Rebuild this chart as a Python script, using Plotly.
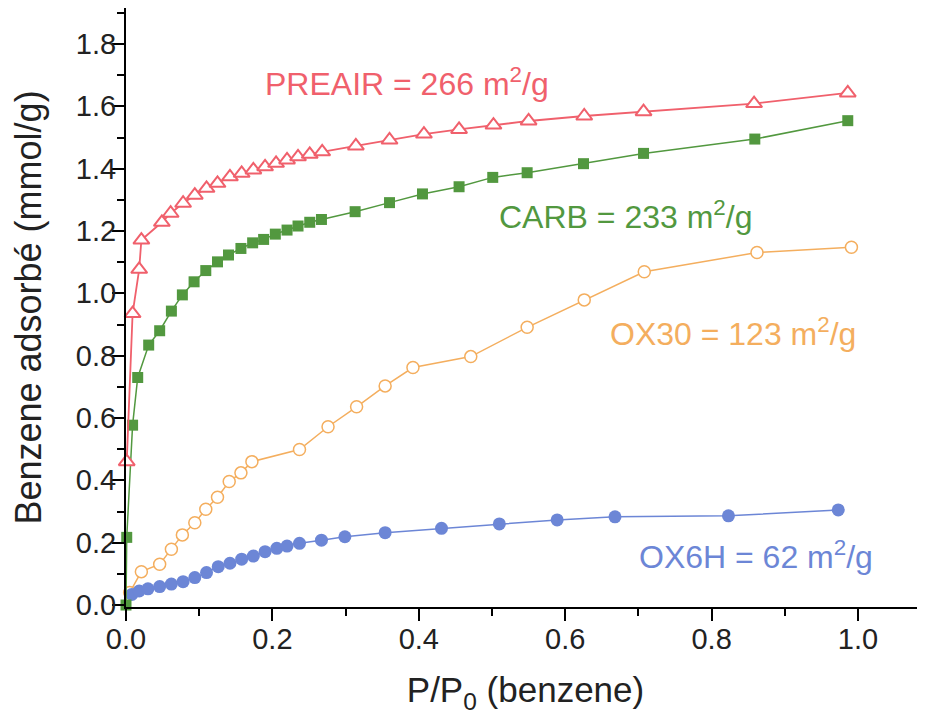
import plotly.graph_objects as go

# ---- data ----
preair_x = [0.001, 0.009, 0.018, 0.021, 0.049, 0.061, 0.078, 0.094, 0.110, 0.125, 0.142, 0.158,
            0.174, 0.190, 0.205, 0.220, 0.235, 0.251, 0.268, 0.314, 0.360, 0.407, 0.455, 0.502,
            0.550, 0.626, 0.707, 0.858, 0.986]
preair_y = [0.46, 0.935, 1.077, 1.171, 1.228, 1.257, 1.289, 1.315, 1.337, 1.353, 1.374, 1.385,
            1.396, 1.406, 1.417, 1.428, 1.438, 1.446, 1.454, 1.473, 1.492, 1.511, 1.526, 1.540,
            1.553, 1.569, 1.583, 1.609, 1.643]

carb_x = [0.0, 0.001, 0.009, 0.016, 0.031, 0.046, 0.062, 0.077, 0.093, 0.109, 0.125, 0.140,
          0.157, 0.173, 0.188, 0.204, 0.220, 0.235, 0.251, 0.267, 0.313, 0.360, 0.405, 0.455,
          0.501, 0.548, 0.625, 0.707, 0.859, 0.986]
carb_y = [0.0, 0.217, 0.577, 0.730, 0.834, 0.880, 0.943, 0.995, 1.037, 1.073, 1.101, 1.123,
          1.144, 1.162, 1.173, 1.190, 1.203, 1.216, 1.228, 1.237, 1.262, 1.291, 1.319, 1.342,
          1.372, 1.387, 1.416, 1.449, 1.495, 1.554]

ox30_x = [0.005, 0.021, 0.046, 0.062, 0.077, 0.094, 0.109, 0.125, 0.141, 0.157, 0.172, 0.237,
          0.276, 0.315, 0.354, 0.392, 0.471, 0.548, 0.626, 0.708, 0.862, 0.991]
ox30_y = [0.040, 0.107, 0.131, 0.179, 0.225, 0.264, 0.307, 0.346, 0.396, 0.424, 0.460, 0.499,
          0.572, 0.636, 0.703, 0.762, 0.797, 0.891, 0.979, 1.069, 1.131, 1.148]

ox6h_x = [0.008, 0.018, 0.030, 0.046, 0.062, 0.078, 0.094, 0.110, 0.126, 0.142, 0.158, 0.174,
          0.190, 0.206, 0.220, 0.237, 0.267, 0.299, 0.354, 0.431, 0.510, 0.589, 0.668, 0.823,
          0.973]
ox6h_y = [0.034, 0.045, 0.052, 0.059, 0.067, 0.075, 0.088, 0.104, 0.123, 0.134, 0.147, 0.157,
          0.171, 0.182, 0.189, 0.198, 0.208, 0.219, 0.232, 0.246, 0.260, 0.273, 0.283, 0.286,
          0.305]

labels = ["PREAIR = 266 m<sup>2</sup>/g", "CARB = 233 m<sup>2</sup>/g",
          "OX30 = 123 m<sup>2</sup>/g", "OX6H = 62 m<sup>2</sup>/g"]
label_x = [0.384, 0.682, 0.829, 0.861]
label_y = [1.677, 1.252, 0.877, 0.160]

RED = "#F0606C"
GREEN = "#52983F"
ORANGE = "#F4AE5E"
BLUE = "#6C86D6"
FONT = "Liberation Sans, Arial, sans-serif"

fig = go.Figure()
fig.add_trace(go.Scatter(x=ox30_x, y=ox30_y, mode="lines+markers", name="OX30",
                         line=dict(color=ORANGE, width=1.5),
                         marker=dict(symbol="circle", size=12, color="white",
                                     line=dict(color=ORANGE, width=1.5)),
                         cliponaxis=False))
fig.add_trace(go.Scatter(x=ox6h_x, y=ox6h_y, mode="lines+markers", name="OX6H",
                         line=dict(color=BLUE, width=1.5),
                         marker=dict(symbol="circle", size=13, color=BLUE,
                                     line=dict(width=0)),
                         cliponaxis=False))
fig.add_trace(go.Scatter(x=carb_x, y=carb_y, mode="lines+markers", name="CARB",
                         line=dict(color=GREEN, width=1.5),
                         marker=dict(symbol="square", size=11, color=GREEN,
                                     line=dict(width=0)),
                         cliponaxis=False))
fig.add_trace(go.Scatter(x=preair_x, y=preair_y, mode="lines+markers", name="PREAIR",
                         line=dict(color=RED, width=1.8),
                         marker=dict(symbol="triangle-up", size=14, color="white",
                                     line=dict(color=RED, width=2)),
                         cliponaxis=False))

colors = [RED, GREEN, ORANGE, BLUE]
for t, xx, yy, c in zip(labels, label_x, label_y, colors):
    fig.add_annotation(x=xx, y=yy, text=t, showarrow=False, xanchor="center", yanchor="middle",
                       font=dict(family=FONT, size=32, color=c))

fig.update_xaxes(range=[0, 1.0915], showgrid=False, zeroline=False, automargin=False,
                 showline=True, linecolor="black", linewidth=2,
                 ticks="outside", tickwidth=2, ticklen=12, tickcolor="black",
                 tick0=0, dtick=0.2, tickformat=".1f", ticklabelstandoff=-7,
                 minor=dict(ticks="outside", ticklen=7, tickwidth=2, tickcolor="black", dtick=0.1, tick0=0),
                 tickfont=dict(family=FONT, size=29, color="#222"),
                 title=dict(text="P/P<sub>0</sub> (benzene)", standoff=24,
                            font=dict(family=FONT, size=35, color="#222")))
fig.update_yaxes(range=[-0.0064, 1.9155], showgrid=False, zeroline=False, automargin=False,
                 showline=True, linecolor="black", linewidth=2,
                 ticks="outside", tickwidth=2, ticklen=12, tickcolor="black",
                 tick0=0, dtick=0.2, tickformat=".1f", ticklabelstandoff=-10,
                 minor=dict(ticks="outside", ticklen=7, tickwidth=2, tickcolor="black", dtick=0.1, tick0=0),
                 tickfont=dict(family=FONT, size=29, color="#222"),
                 title=dict(text="Benzene adsorbé (mmol/g)", standoff=33,
                            font=dict(family=FONT, size=36, color="#222")))

# the page adds an 8 px body margin, so the figure is 8 px smaller and margins shifted
fig.update_layout(width=917, height=707, margin=dict(l=118, r=0, t=0, b=108),
                  paper_bgcolor="white", plot_bgcolor="white", showlegend=False,
                  font=dict(family=FONT))

fig.write_html("out.html")
